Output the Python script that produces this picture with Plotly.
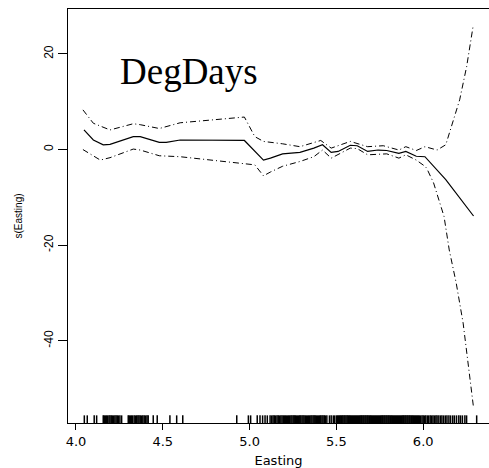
import plotly.graph_objects as go

# ---- data ----
fit_x = [4.046, 4.10, 4.157, 4.196, 4.33, 4.37, 4.48, 4.52, 4.60, 4.97, 5.08, 5.12, 5.19, 5.29,
         5.37, 5.42, 5.47, 5.51, 5.58, 5.62, 5.68, 5.74, 5.79, 5.86, 5.90, 5.96, 6.01, 6.07,
         6.13, 6.29]
fit_y = [4.1, 2.0, 1.0, 1.1, 2.7, 2.7, 1.5, 1.5, 2.0, 1.9, -2.2, -1.8, -0.9, -0.6,
         0.3, 1.0, -0.6, -0.4, 0.9, 0.8, -0.4, -0.1, -0.2, -0.8, -0.4, -1.4, -1.5, -3.9,
         -6.3, -13.9]

upper_x = [4.04, 4.10, 4.196, 4.33, 4.37, 4.48, 4.60, 4.97, 5.03, 5.08, 5.19, 5.29, 5.41,
           5.47, 5.58, 5.62, 5.68, 5.77, 5.86, 5.90, 5.96, 6.01, 6.08, 6.13, 6.17, 6.21,
           6.25, 6.287]
upper_y = [8.3, 5.5, 4.1, 5.4, 5.2, 4.4, 5.6, 6.8, 2.7, 1.7, 1.2, 0.6, 1.9,
           0.3, 1.7, 1.3, 0.6, 0.8, -0.1, 0.6, -0.2, 0.6, -0.1, 1.0, 5.5, 10.4,
           17.3, 25.7]

lower_x = [4.04, 4.14, 4.196, 4.33, 4.37, 4.48, 4.60, 4.97, 5.03, 5.08, 5.12, 5.19, 5.29,
           5.37, 5.42, 5.47, 5.58, 5.62, 5.68, 5.79, 5.86, 5.90, 5.96, 6.01, 6.02, 6.06,
           6.12, 6.15, 6.19, 6.23, 6.26, 6.29]
lower_y = [0.0, -2.2, -1.7, 0.1, -0.1, -1.3, -1.5, -3.0, -3.2, -5.5, -4.7, -3.5, -2.5,
           -1.5, -0.1, -1.8, 0.3, 0.2, -1.1, -0.9, -1.8, -1.1, -2.2, -3.5, -3.9, -7.0,
           -14.0, -21.0, -27.9, -36.3, -44.6, -54.0]

rug_x = [4.048, 4.065, 4.105, 4.119,
         4.157, 4.163, 4.17, 4.176, 4.182, 4.19, 4.196, 4.203, 4.21, 4.216, 4.224, 4.231, 4.238, 4.244,
         4.253, 4.263,
         4.301, 4.307, 4.314, 4.32, 4.326, 4.335, 4.342, 4.35, 4.357, 4.363, 4.37, 4.378, 4.385,
         4.393, 4.401, 4.409, 4.416,
         4.445, 4.468, 4.541, 4.58, 4.615, 4.926,
         4.993, 5.006, 5.044, 5.06, 5.075, 5.089, 5.102, 5.118, 5.127, 5.135, 5.142, 5.15, 5.158,
         5.165, 5.172, 5.18, 5.187, 5.194,
         5.2, 5.206, 5.212, 5.219, 5.225, 5.231, 5.238, 5.244, 5.251, 5.257, 5.263, 5.27, 5.276,
         5.283, 5.289, 5.295, 5.302, 5.308, 5.314, 5.321, 5.327, 5.334, 5.34, 5.346, 5.353, 5.359,
         5.366, 5.372, 5.378, 5.385, 5.391, 5.398, 5.404, 5.41, 5.417, 5.423, 5.43, 5.436, 5.445,
         5.46, 5.47, 5.482, 5.49, 5.5,
         5.506, 5.511, 5.517, 5.522, 5.528, 5.533, 5.538, 5.544, 5.549, 5.555, 5.561, 5.566,
         5.571, 5.577, 5.582, 5.588, 5.593, 5.599, 5.604, 5.61, 5.615, 5.621, 5.626, 5.632,
         5.637, 5.643, 5.648, 5.654, 5.659, 5.665, 5.67, 5.676, 5.681, 5.687, 5.692, 5.698,
         5.703, 5.709, 5.714, 5.72, 5.725, 5.731, 5.736, 5.742, 5.747, 5.753, 5.758, 5.764,
         5.769, 5.775, 5.78, 5.786, 5.791, 5.797, 5.802, 5.808, 5.813, 5.819, 5.824, 5.83,
         5.835, 5.841, 5.846, 5.852, 5.857, 5.863, 5.868, 5.874, 5.879, 5.885, 5.89, 5.896,
         5.901, 5.907, 5.912, 5.918, 5.923, 5.929, 5.934, 5.94, 5.945, 5.951, 5.956, 5.962,
         5.967, 5.973, 5.978,
         5.985, 5.993, 6.0, 6.008, 6.015, 6.024, 6.031, 6.04, 6.047, 6.056, 6.064, 6.073, 6.08,
         6.09, 6.1, 6.108, 6.118, 6.128, 6.137, 6.148, 6.158, 6.17, 6.18, 6.192, 6.205, 6.215,
         6.226, 6.24, 6.25, 6.308]

x_ticks = [4.0, 4.5, 5.0, 5.5, 6.0]
x_tick_labels = ["4.0", "4.5", "5.0", "5.5", "6.0"]
y_ticks = [-40, -20, 0, 20]
y_tick_labels = ["-40", "-20", "0", "20"]

X_RANGE = [3.954, 6.379]
Y_RANGE = [-57.2, 29.4]
RUG_LEN = 1.6

# rug segments
rug_px, rug_py = [], []
for v in rug_x:
    rug_px += [v, v, None]
    rug_py += [Y_RANGE[0], Y_RANGE[0] + RUG_LEN, None]

dashdot = "6px,3px,1px,3px"

fig = go.Figure()
fig.add_trace(go.Scatter(x=rug_px, y=rug_py, mode="lines",
                         line=dict(color="black", width=1.5), hoverinfo="skip"))
fig.add_trace(go.Scatter(x=fit_x, y=fit_y, mode="lines",
                         line=dict(color="black", width=1.2)))
fig.add_trace(go.Scatter(x=upper_x, y=upper_y, mode="lines",
                         line=dict(color="black", width=1, dash=dashdot)))
fig.add_trace(go.Scatter(x=lower_x, y=lower_y, mode="lines",
                         line=dict(color="black", width=1, dash=dashdot)))

fig.add_annotation(x=4.242, y=16.4, xref="x", yref="y", text="DegDays",
                   showarrow=False, xanchor="left", yanchor="middle",
                   font=dict(family="Liberation Serif", size=37, color="black"))

fig.update_layout(
    width=489, height=468,
    margin=dict(l=68, r=0, t=9, b=45),
    paper_bgcolor="white", plot_bgcolor="white",
    showlegend=False,
    xaxis=dict(range=X_RANGE, tickvals=x_ticks, ticktext=x_tick_labels, automargin=False,
               showgrid=False, zeroline=False, showline=True, linecolor="black",
               linewidth=1, mirror=True, ticks="outside", ticklen=6, tickcolor="black",
               tickfont=dict(family="DejaVu Sans", size=13, color="black"),
               title=dict(text="Easting", standoff=9,
                          font=dict(family="DejaVu Sans", size=13, color="black"))),
    yaxis=dict(range=Y_RANGE, tickvals=y_ticks, ticktext=y_tick_labels, automargin=False,
               showgrid=False, zeroline=False, showline=True, linecolor="black",
               linewidth=1, ticks="outside", ticklen=9, tickcolor="black", tickangle=-90,
               tickfont=dict(family="Liberation Sans", size=12, color="black"),
               title=dict(text="s(Easting)", standoff=17,
                          font=dict(family="Liberation Sans", size=10, color="black"))),
)

fig.write_html("out.html", config={"displayModeBar": False},
               post_script="document.body.style.margin='0';document.body.style.padding='0';")
